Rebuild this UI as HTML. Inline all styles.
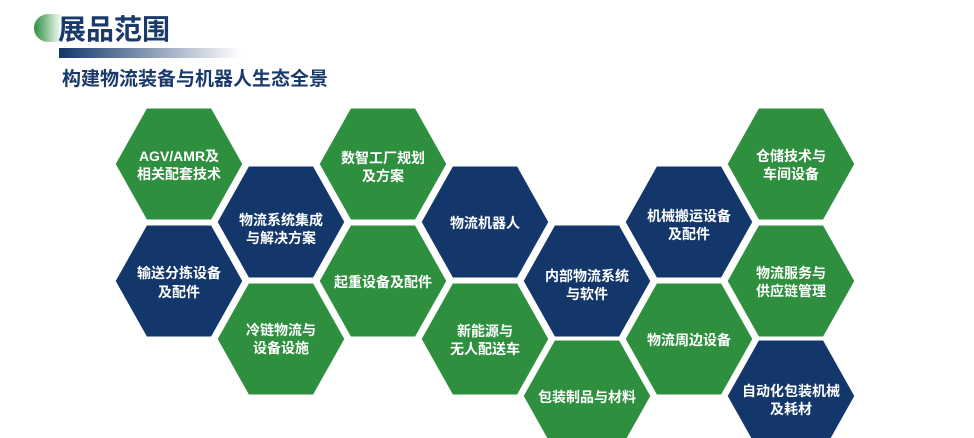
<!DOCTYPE html>
<html><head><meta charset="utf-8"><style>
body{margin:0;width:974px;height:438px;background:#fff;overflow:hidden;font-family:"Liberation Sans","Noto Sans CJK SC",sans-serif}
</style></head><body>
<svg width="974" height="438" xmlns="http://www.w3.org/2000/svg" style="position:absolute;left:0;top:0">
<defs>
<linearGradient id="g1" x1="0" x2="1"><stop offset="0" stop-color="#2e8f3e"/><stop offset="1" stop-color="#fff"/></linearGradient>
<linearGradient id="g2" x1="0" x2="1"><stop offset="0" stop-color="#13376b"/><stop offset="1" stop-color="#fff"/></linearGradient>
<polygon id="h" points="-65,0 -33,-57 33,-57 65,0 33,57 -33,57"/>
</defs>
<path d="M48,14 A14,14 0 0 0 48,42 L62,42 L62,14 Z" fill="url(#g1)"/>
<text x="58" y="39" font-size="28" font-weight="bold" fill="#1a3a6b" font-family="Liberation Sans,Noto Sans CJK SC,sans-serif">展品范围</text>
<rect x="59" y="48" width="182" height="10" fill="url(#g2)"/>
<text x="62" y="85" font-size="19" font-weight="bold" fill="#1a3a6b" font-family="Liberation Sans,Noto Sans CJK SC,sans-serif">构建物流装备与机器人生态全景</text>
<g stroke="#fff" stroke-width="3" font-size="14" font-weight="bold" fill="#fff" text-anchor="middle" font-family="Liberation Sans,Noto Sans CJK SC,sans-serif">
<use href="#h" x="179" y="164" fill="#2e8f3e"/>
<use href="#h" x="179" y="281" fill="#13376b"/>
<use href="#h" x="281" y="222" fill="#13376b"/>
<use href="#h" x="281" y="339" fill="#2e8f3e"/>
<use href="#h" x="383" y="164" fill="#2e8f3e"/>
<use href="#h" x="383" y="281" fill="#2e8f3e"/>
<use href="#h" x="485" y="222" fill="#13376b"/>
<use href="#h" x="485" y="339" fill="#2e8f3e"/>
<use href="#h" x="587" y="281" fill="#13376b"/>
<use href="#h" x="587" y="396" fill="#2e8f3e"/>
<use href="#h" x="689" y="222" fill="#13376b"/>
<use href="#h" x="689" y="339" fill="#2e8f3e"/>
<use href="#h" x="791" y="164" fill="#2e8f3e"/>
<use href="#h" x="791" y="281" fill="#2e8f3e"/>
<use href="#h" x="791" y="396" fill="#13376b"/>
</g>
<g font-size="14" font-weight="bold" fill="#fff" text-anchor="middle" font-family="Liberation Sans,Noto Sans CJK SC,sans-serif">
<text x="179" y="161">AGV/AMR及</text><text x="179" y="179">相关配套技术</text>
<text x="179" y="278">输送分拣设备</text><text x="179" y="297">及配件</text>
<text x="281" y="225">物流系统集成</text><text x="281" y="243">与解决方案</text>
<text x="281" y="335">冷链物流与</text><text x="281" y="353">设备设施</text>
<text x="383" y="163">数智工厂规划</text><text x="383" y="181">及方案</text>
<text x="383" y="287">起重设备及配件</text>
<text x="485" y="228">物流机器人</text>
<text x="485" y="336">新能源与</text><text x="485" y="354">无人配送车</text>
<text x="587" y="281">内部物流系统</text><text x="587" y="299">与软件</text>
<text x="587" y="402">包装制品与材料</text>
<text x="689" y="221">机械搬运设备</text><text x="689" y="239">及配件</text>
<text x="689" y="345">物流周边设备</text>
<text x="791" y="161">仓储技术与</text><text x="791" y="179">车间设备</text>
<text x="791" y="278">物流服务与</text><text x="791" y="296">供应链管理</text>
<text x="791" y="396">自动化包装机械</text><text x="791" y="414">及耗材</text>
</g>
</svg>
</body></html>
